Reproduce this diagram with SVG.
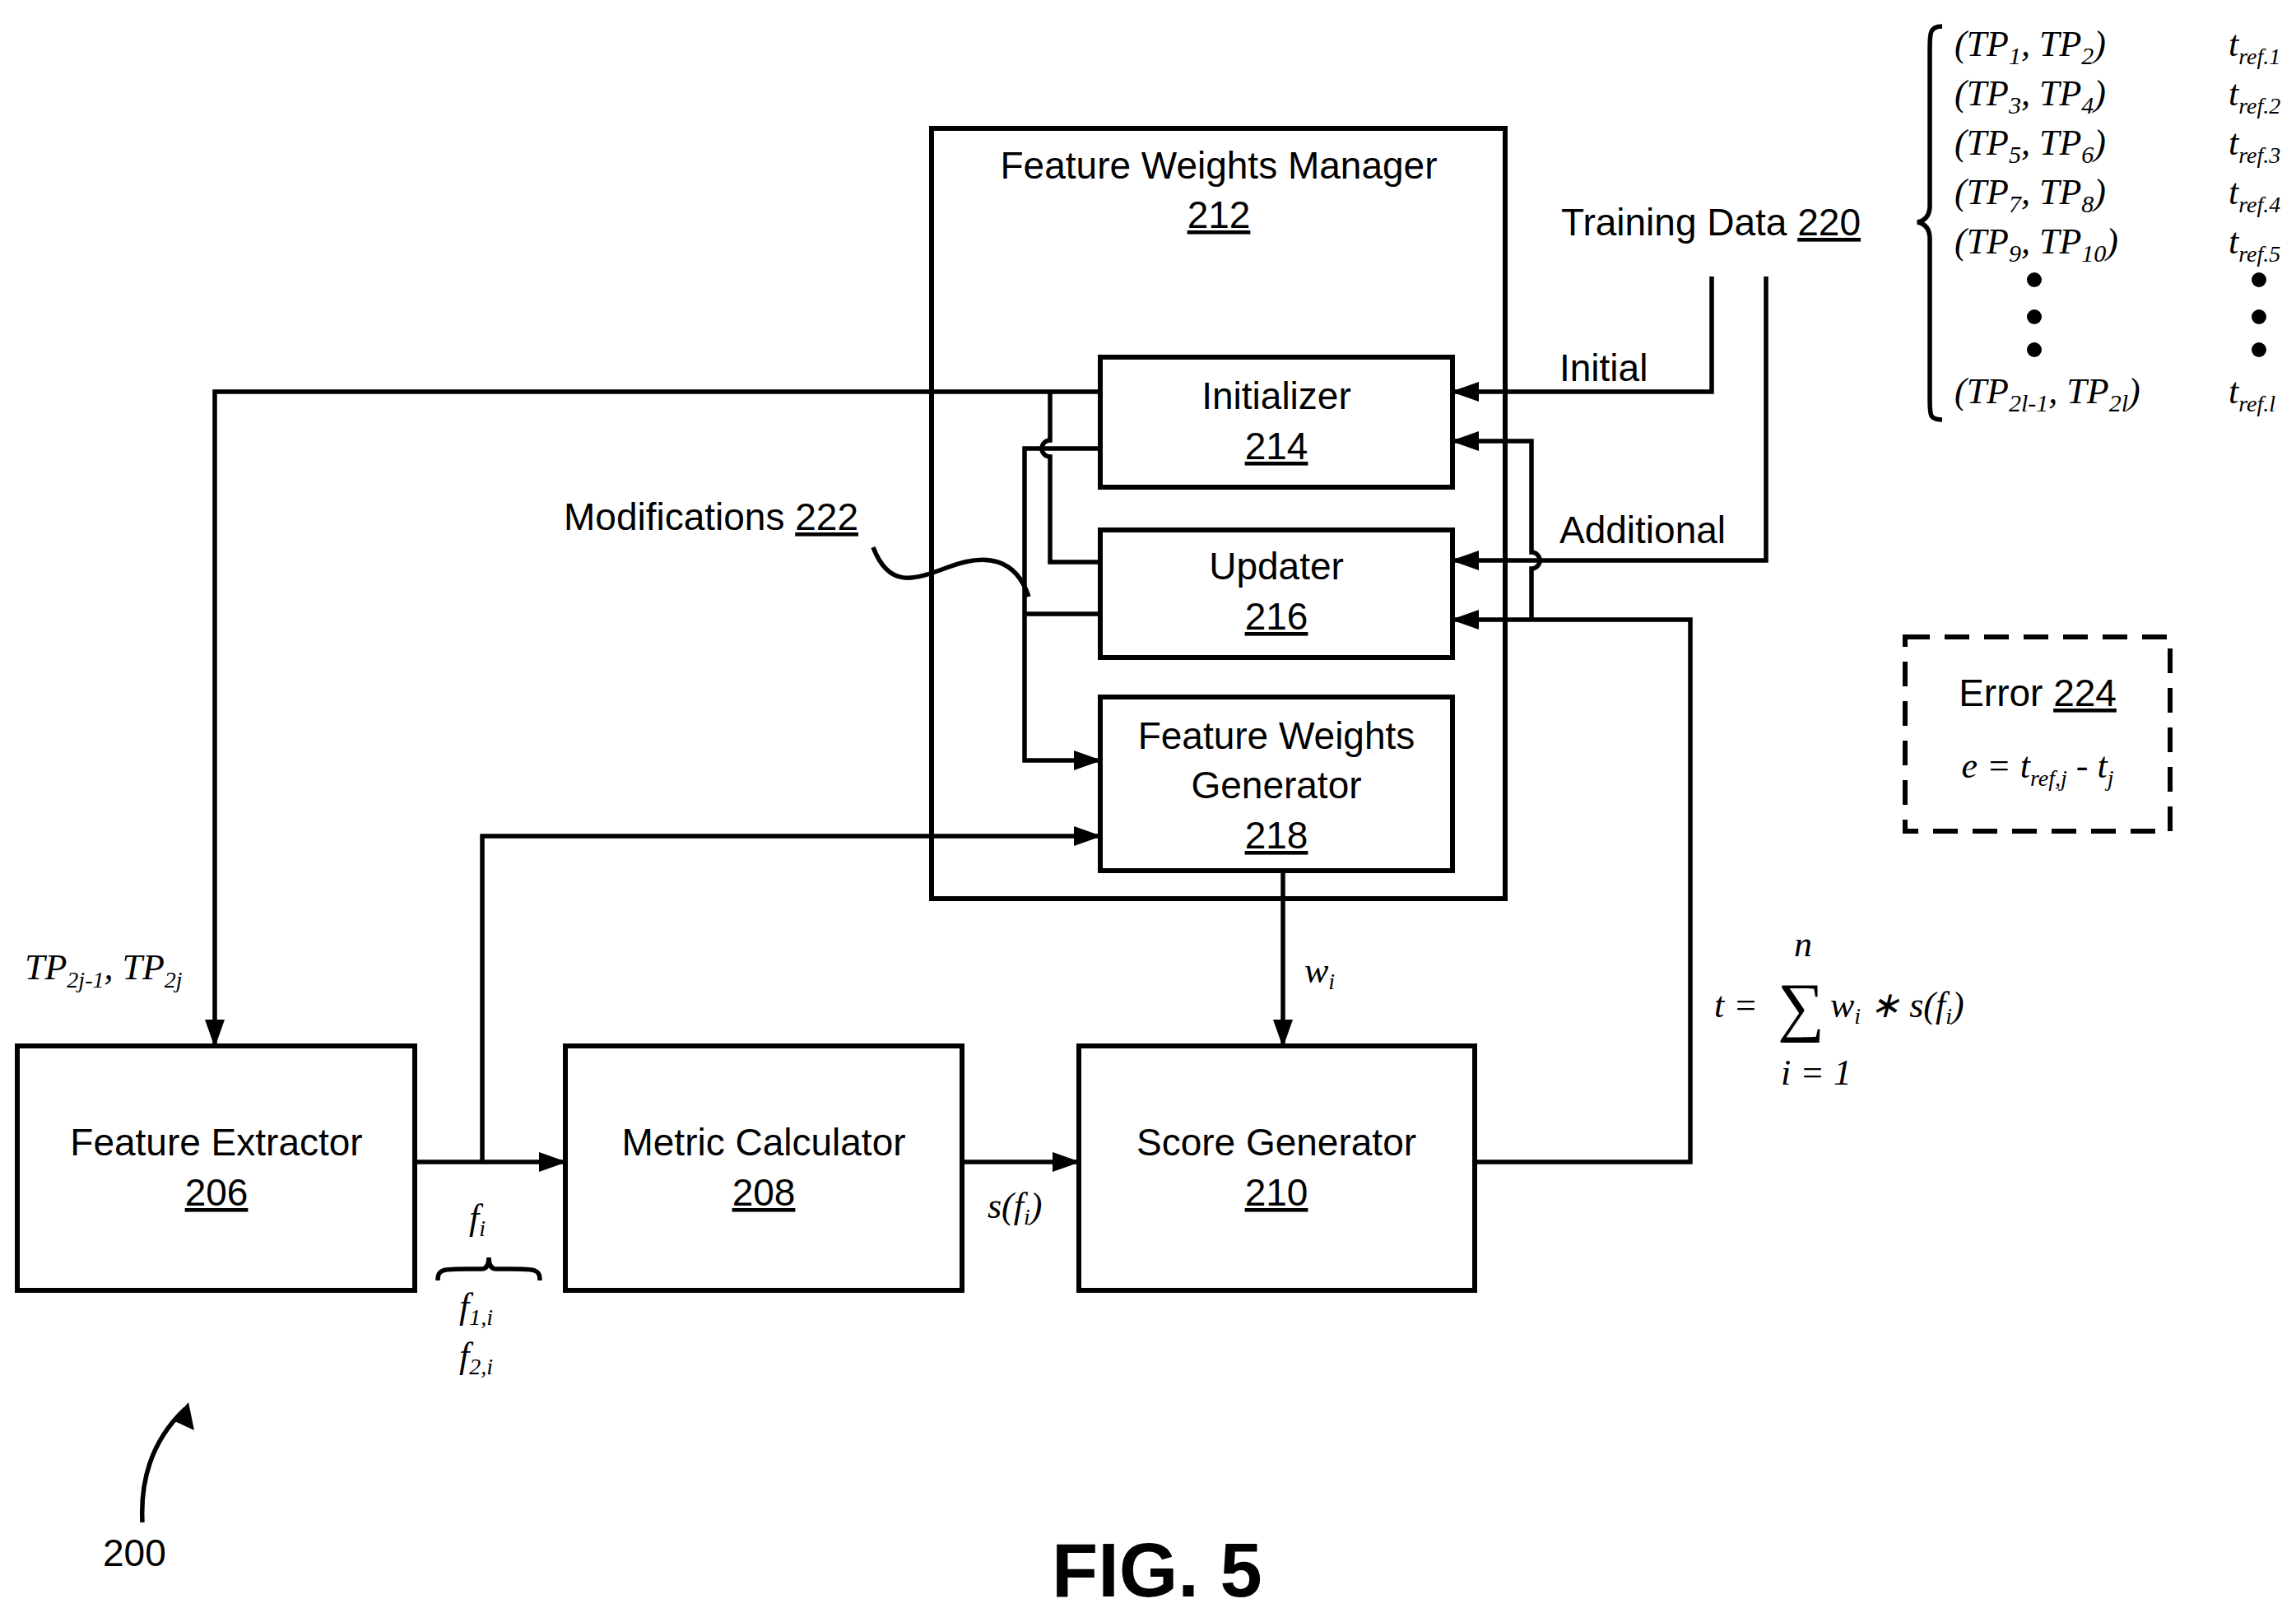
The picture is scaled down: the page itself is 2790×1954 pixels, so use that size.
<svg xmlns="http://www.w3.org/2000/svg" width="2790" height="1954" viewBox="0 0 2790 1954">
<style>
.box{fill:none;stroke:#000;stroke-width:6}
.ln{fill:none;stroke:#000;stroke-width:5.5}
.t{font-family:"Liberation Sans",Arial,sans-serif;font-size:46px;fill:#000}
.m{font-family:"Liberation Serif","Times New Roman",serif;font-style:italic;font-size:44px;fill:#000}
.c{text-anchor:middle}
</style>
<defs>
<marker id="ar" markerWidth="34" markerHeight="24" refX="32" refY="12" orient="auto" markerUnits="userSpaceOnUse">
<path d="M0,0 L34,12 L0,24 Z" fill="#000"/>
</marker>
</defs>
<rect width="2790" height="1954" fill="#fff"/>
<g id="connectors">
<path class="ln" d="M1337,476 H261 V1271" marker-end="url(#ar)"/>
<path class="ln" d="M1276,476 V535 A10,10 0 0 0 1276,555 V683 H1337"/>
<path class="ln" d="M1337,545 H1245 V924 H1337" marker-end="url(#ar)"/>
<path class="ln" d="M1337,746 H1245"/>
<path class="ln" d="M2080,336 V476 H1765" marker-end="url(#ar)"/>
<path class="ln" d="M2146,336 V681 H1765" marker-end="url(#ar)"/>
<path class="ln" d="M504,1412 H687" marker-end="url(#ar)"/>
<path class="ln" d="M586,1412 V1016 H1337" marker-end="url(#ar)"/>
<path class="ln" d="M1169,1412 H1311" marker-end="url(#ar)"/>
<path class="ln" d="M1559,1058 V1271" marker-end="url(#ar)"/>
<path class="ln" d="M1792,1412 H2054 V753 H1765" marker-end="url(#ar)"/>
<path class="ln" d="M1861,753 V691 A10,10 0 0 0 1861,671 V536 H1765" marker-end="url(#ar)"/>
<path class="ln" d="M1061,665 C1080,715 1110,705 1150,690 C1200,670 1235,680 1250,725"/>
<path class="ln" d="M173,1850 C170,1790 190,1745 225,1712"/>
<path d="M229,1704 L236,1738 L210,1726 Z" fill="#000"/>
</g>
<g id="fwm"><rect class="box" x="1132" y="156" width="697" height="936"/>
<text class="t c" x="1481" y="217">Feature Weights Manager</text>
<text class="t c" x="1481" y="277" text-decoration="underline">212</text></g>
<g id="init"><rect class="box" x="1337" y="434" width="428" height="158"/>
<text class="t c" x="1551" y="497">Initializer</text>
<text class="t c" x="1551" y="558" text-decoration="underline">214</text></g>
<g id="upd"><rect class="box" x="1337" y="644" width="428" height="155"/>
<text class="t c" x="1551" y="704">Updater</text>
<text class="t c" x="1551" y="765" text-decoration="underline">216</text></g>
<g id="fwg"><rect class="box" x="1337" y="847" width="428" height="211"/>
<text class="t c" x="1551" y="910">Feature Weights</text>
<text class="t c" x="1551" y="970">Generator</text>
<text class="t c" x="1551" y="1031" text-decoration="underline">218</text></g>
<g id="fe"><rect class="box" x="21" y="1271" width="483" height="297"/>
<text class="t c" x="263" y="1404">Feature Extractor</text>
<text class="t c" x="263" y="1465" text-decoration="underline">206</text></g>
<g id="mc"><rect class="box" x="687" y="1271" width="482" height="297"/>
<text class="t c" x="928" y="1404">Metric Calculator</text>
<text class="t c" x="928" y="1465" text-decoration="underline">208</text></g>
<g id="sg"><rect class="box" x="1311" y="1271" width="481" height="297"/>
<text class="t c" x="1551" y="1404">Score Generator</text>
<text class="t c" x="1551" y="1465" text-decoration="underline">210</text></g>
<g id="err"><rect class="box" x="2315" y="774" width="322" height="236" stroke-dasharray="30,18"/>
<text class="t c" x="2476" y="858">Error <tspan text-decoration="underline">224</tspan></text>
<text class="m c" x="2476" y="945">e = t<tspan font-size="28" dy="10">ref,j</tspan><tspan dy="-10"> - t</tspan><tspan font-size="28" dy="10">j</tspan></text></g>
<g id="labels">
<text class="t" x="1897" y="286">Training Data <tspan text-decoration="underline">220</tspan></text>
<text class="t" x="1895" y="463">Initial</text>
<text class="t" x="1895" y="660">Additional</text>
<text class="t" x="685" y="644">Modifications <tspan text-decoration="underline">222</tspan></text>
<text class="m" x="1585" y="1194">w<tspan font-size="28" dy="8">i</tspan></text>
<text class="m" x="1200" y="1480">s(f<tspan font-size="28" dy="8">i</tspan><tspan dy="-8">)</tspan></text>
<text class="m" x="570" y="1494">f<tspan font-size="28" dy="8">i</tspan></text>
<path class="ln" d="M532,1556 C532,1540 540,1542 585,1542 C592,1542 594,1536 594,1528 C594,1536 596,1542 603,1542 C648,1542 656,1540 656,1556" stroke-width="4"/>
<text class="m" x="558" y="1602">f<tspan font-size="28" dy="8">1,i</tspan></text>
<text class="m" x="558" y="1662">f<tspan font-size="28" dy="8">2,i</tspan></text>
<text class="m" x="30" y="1190">TP<tspan font-size="28" dy="10">2j-1</tspan><tspan dy="-10">, TP</tspan><tspan font-size="28" dy="10">2j</tspan></text>
<text class="m" x="2083" y="1236">t =</text>
<text font-family="Liberation Serif,serif" font-size="80" x="2160" y="1250">∑</text>
<text class="m" x="2180" y="1162" font-size="24">n</text>
<text class="m" x="2164" y="1318" font-size="24">i = 1</text>
<text class="m" x="2224" y="1236">w<tspan font-size="28" dy="8">i</tspan><tspan dy="-8"> ∗ s(f</tspan><tspan font-size="28" dy="8">i</tspan><tspan dy="-8">)</tspan></text>
<path class="ln" d="M2360,32 C2345,32 2345,40 2345,60 V250 C2345,262 2340,268 2330,270 C2340,272 2345,278 2345,290 V485 C2345,505 2345,510 2360,510" stroke-width="6"/>
<g class="m" font-size="48">
<text x="2375" y="68">(TP<tspan font-size="30" dy="10">1</tspan><tspan dy="-10">, TP</tspan><tspan font-size="30" dy="10">2</tspan><tspan dy="-10">)</tspan></text>
<text x="2375" y="128">(TP<tspan font-size="30" dy="10">3</tspan><tspan dy="-10">, TP</tspan><tspan font-size="30" dy="10">4</tspan><tspan dy="-10">)</tspan></text>
<text x="2375" y="188">(TP<tspan font-size="30" dy="10">5</tspan><tspan dy="-10">, TP</tspan><tspan font-size="30" dy="10">6</tspan><tspan dy="-10">)</tspan></text>
<text x="2375" y="248">(TP<tspan font-size="30" dy="10">7</tspan><tspan dy="-10">, TP</tspan><tspan font-size="30" dy="10">8</tspan><tspan dy="-10">)</tspan></text>
<text x="2375" y="308">(TP<tspan font-size="30" dy="10">9</tspan><tspan dy="-10">, TP</tspan><tspan font-size="30" dy="10">10</tspan><tspan dy="-10">)</tspan></text>
<text x="2375" y="490">(TP<tspan font-size="30" dy="10">2l-1</tspan><tspan dy="-10">, TP</tspan><tspan font-size="30" dy="10">2l</tspan><tspan dy="-10">)</tspan></text>
<text x="2708" y="68">t<tspan font-size="28" dy="10">ref.1</tspan></text>
<text x="2708" y="128">t<tspan font-size="28" dy="10">ref.2</tspan></text>
<text x="2708" y="188">t<tspan font-size="28" dy="10">ref.3</tspan></text>
<text x="2708" y="248">t<tspan font-size="28" dy="10">ref.4</tspan></text>
<text x="2708" y="308">t<tspan font-size="28" dy="10">ref.5</tspan></text>
<text x="2708" y="490">t<tspan font-size="28" dy="10">ref.l</tspan></text>
</g>
<circle cx="2472" cy="340" r="9"/><circle cx="2472" cy="385" r="9"/><circle cx="2472" cy="425" r="9"/>
<circle cx="2745" cy="340" r="9"/><circle cx="2745" cy="385" r="9"/><circle cx="2745" cy="425" r="9"/>
<text class="t" x="125" y="1903">200</text>
<text font-family="Liberation Sans,Arial,sans-serif" font-weight="bold" font-size="92" x="1278" y="1940">FIG. 5</text>
</g>
</svg>
